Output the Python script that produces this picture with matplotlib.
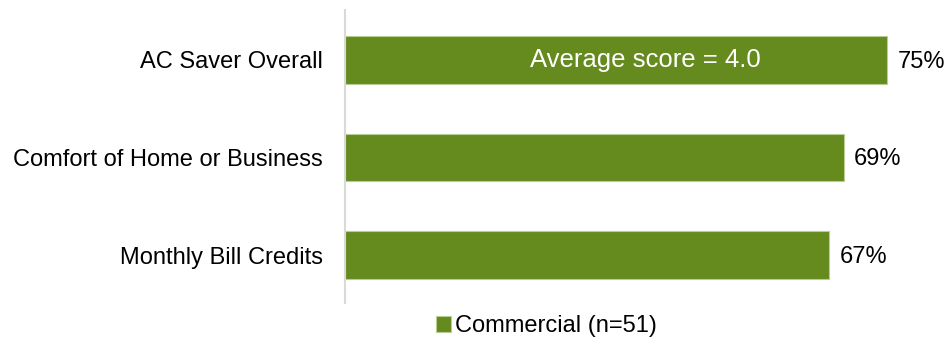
import matplotlib.pyplot as plt

plt.rcParams['font.family'] = ['Liberation Sans', 'DejaVu Sans']

categories = ["AC Saver Overall", "Comfort of Home or Business", "Monthly Bill Credits"]
values = [75, 69, 67]
series_name = "Commercial (n=51)"
note = "Average score = 4.0"
color = "#658A1E"

fig = plt.figure(figsize=(9.53, 3.39), dpi=100)
ax = fig.add_axes([345 / 953, 1 - 303 / 339, (953 - 345) / 953, 293 / 339])

y = range(len(categories))
bars = ax.barh(y, values, height=0.49, color=color, edgecolor="#b8cc96", linewidth=0.8,
               label=series_name)

# percentage labels sit just right of each bar
for i, v in enumerate(values):
    ax.text(v + 1.4, i + 0.02, f"{v}%", va="center", ha="left", fontsize=17)

ax.text(values[0] * 0.5 + 4, 0, note, va="center", ha="center", color="white", fontsize=18.5)

ax.set_xlim(0, 84.1)
ax.set_ylim(2.49, -0.51)
ax.set_yticks(list(y))
ax.set_yticklabels(categories, fontsize=17)
ax.tick_params(axis="y", length=0, pad=16)
ax.set_xticks([])
for s in ["top", "right", "bottom"]:
    ax.spines[s].set_visible(False)
ax.spines["left"].set_color("#d9d9d9")
ax.spines["left"].set_linewidth(1.5)

fig.legend(loc="center", bbox_to_anchor=(546 / 953, 1 - 326 / 339), frameon=False,
           fontsize=17, handlelength=0.65, handleheight=0.65, handletextpad=0.15)

fig.savefig("out.png", dpi=100)
